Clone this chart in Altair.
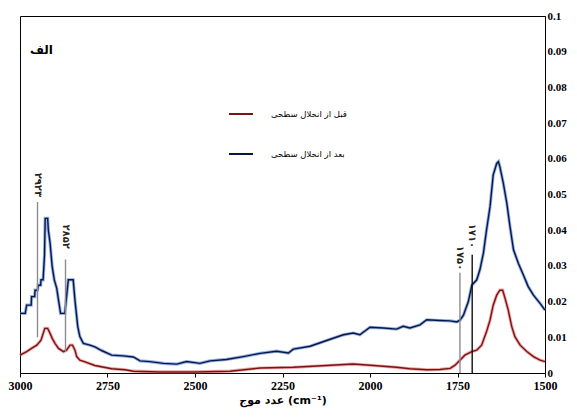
import altair as alt
import pandas as pd

# --- data ---
series_names = ["قبل از انحلال سطحی", "بعد از انحلال سطحی"]

wn_before = [3000, 2981, 2967, 2952, 2940, 2929, 2921, 2914, 2908, 2900, 2890, 2876,
             2867, 2857, 2850, 2843, 2838, 2829, 2814, 2786, 2738, 2700, 2676, 2600,
             2500, 2400, 2314, 2219, 2124, 2048, 1990, 1924, 1886, 1838, 1800, 1771,
             1757, 1743, 1729, 1709, 1695, 1681, 1667, 1657, 1648, 1638, 1629, 1621,
             1614, 1605, 1595, 1586, 1571, 1552, 1533, 1514, 1500]
abs_before = [0.0050, 0.0060, 0.0069, 0.0078, 0.0092, 0.0125, 0.0125, 0.0111, 0.0097, 0.0083,
              0.0069, 0.0060, 0.0064, 0.0078, 0.0078, 0.0064, 0.0046, 0.0036, 0.0031, 0.0021,
              0.0012, 0.0009, 0.0005, 0.0003, 0.0003, 0.0005, 0.0014, 0.0016, 0.0021, 0.0025,
              0.0021, 0.0016, 0.0012, 0.0009, 0.0010, 0.0013, 0.0022, 0.0036, 0.0050, 0.0060,
              0.0064, 0.0078, 0.0116, 0.0148, 0.0190, 0.0218, 0.0232, 0.0232, 0.0209, 0.0176,
              0.0130, 0.0102, 0.0078, 0.0060, 0.0046, 0.0036, 0.0032]

wn_after = [3000, 2985, 2981, 2968, 2967, 2958, 2957, 2950, 2948, 2941, 2940, 2934,
            2930, 2928, 2921, 2919, 2914, 2908, 2902, 2895, 2890, 2884, 2872, 2868,
            2862, 2848, 2843, 2835, 2829, 2819, 2800, 2786, 2767, 2738, 2705, 2676,
            2657, 2629, 2590, 2552, 2524, 2486, 2457, 2410, 2362, 2314, 2267, 2233,
            2219, 2171, 2124, 2076, 2048, 2029, 2000, 1962, 1924, 1905, 1886, 1857,
            1838, 1800, 1771, 1752, 1743, 1733, 1719, 1709, 1695, 1686, 1676, 1667,
            1657, 1648, 1638, 1633, 1629, 1619, 1609, 1600, 1590, 1576, 1562, 1548,
            1533, 1514, 1500]
abs_after = [0.0167, 0.0167, 0.0190, 0.0190, 0.0214, 0.0214, 0.0232, 0.0232, 0.0246, 0.0246,
             0.0261, 0.0261, 0.0330, 0.0433, 0.0433, 0.0400, 0.0363, 0.0298, 0.0261, 0.0237,
             0.0204, 0.0167, 0.0167, 0.0204, 0.0261, 0.0261, 0.0204, 0.0130, 0.0102, 0.0083,
             0.0078, 0.0073, 0.0063, 0.0050, 0.0048, 0.0045, 0.0034, 0.0032, 0.0027, 0.0025,
             0.0032, 0.0027, 0.0034, 0.0038, 0.0046, 0.0055, 0.0061, 0.0056, 0.0067, 0.0075,
             0.0091, 0.0107, 0.0112, 0.0107, 0.0128, 0.0126, 0.0123, 0.0131, 0.0126, 0.0135,
             0.0149, 0.0147, 0.0146, 0.0143, 0.0148, 0.0162, 0.0200, 0.0246, 0.0261, 0.0289,
             0.0336, 0.0401, 0.0466, 0.0555, 0.0587, 0.0592, 0.0578, 0.0531, 0.0475, 0.0410,
             0.0345, 0.0307, 0.0275, 0.0242, 0.0218, 0.0195, 0.0176]

ann_wn = [2950, 2870, 1743, 1708]
ann_low = [0.0100, 0.0060, 0.0, 0.0]
ann_high = [0.0479, 0.0318, 0.0281, 0.0331]
ann_label_y = [0.0527, 0.0382, 0.0322, 0.0384]
ann_text = ["۲۹۲۳", "۲۸۵۲", "۱۷۵۰", "۱۷۱۰"]
ann_color = ["#8c8c8c", "#8c8c8c", "#8c8c8c", "#111111"]

x_ticks = [3000, 2750, 2500, 2250, 2000, 1750, 1500]
y_ticks = [0, 0.01, 0.02, 0.03, 0.04, 0.05, 0.06, 0.07, 0.08, 0.09, 0.1]

panel_label = "الف"
x_title = "عدد موج (cm⁻¹)"

# --- tables ---
df = pd.concat([
    pd.DataFrame({"wn": wn_before, "a": abs_before, "series": series_names[0]}),
    pd.DataFrame({"wn": wn_after, "a": abs_after, "series": series_names[1]}),
], ignore_index=True)

ann = pd.DataFrame({"wn": ann_wn, "lo": ann_low, "hi": ann_high,
                    "ly": ann_label_y, "txt": ann_text, "col": ann_color})

x_scale = alt.Scale(domain=[1500, 3000], reverse=True, nice=False, zero=False)
y_scale = alt.Scale(domain=[0, 0.1], nice=False)

x_axis = alt.Axis(values=x_ticks, title=x_title, grid=False, format="d",
                  labelFont="Liberation Serif", labelFontWeight="bold",
                  labelFontSize=12, labelColor="black", tickSize=4,
                  tickColor="black", domainColor="black",
                  labelFlush=False, labelOverlap=False,
                  titleFont="DejaVu Sans", titleFontWeight="bold",
                  titleFontSize=11, titleColor="black", titlePadding=3,
                  labelPadding=3)
y_axis = alt.Axis(orient="right", values=y_ticks, format="~g", grid=False,
                  ticks=False, title=None, labelFont="Liberation Serif",
                  labelFontWeight="bold", labelFontSize=11, labelColor="black",
                  labelPadding=2, domainColor="black",
                  labelOverlap=False, labelFlush=False)

x_enc = alt.X("wn:Q", scale=x_scale, axis=x_axis)
y_enc = alt.Y("a:Q", scale=y_scale, axis=y_axis)

base = alt.Chart(df)

halo_before = base.transform_filter(alt.datum.series == series_names[0]).mark_line(
    color="#e06060", strokeWidth=3.2, opacity=0.55).encode(x=x_enc, y=y_enc)
halo_after = base.transform_filter(alt.datum.series == series_names[1]).mark_line(
    color="#4a7fd0", strokeWidth=3.2, opacity=0.6).encode(x=x_enc, y=y_enc)

core = base.mark_line(strokeWidth=1.4).encode(
    x=x_enc, y=y_enc,
    color=alt.Color("series:N",
                    scale=alt.Scale(domain=series_names, range=["#7a1414", "#0b1648"]),
                    legend=alt.Legend(orient="none", legendX=208, legendY=85, title=None,
                                      symbolType="stroke", symbolSize=576,
                                      symbolStrokeWidth=2, labelFont="DejaVu Sans",
                                      labelFontSize=8.5, labelColor="black",
                                      rowPadding=22, labelOffset=17, padding=0)),
    detail="series:N",
)

rules = alt.Chart(ann).mark_rule(strokeWidth=1.4).encode(
    x=alt.X("wn:Q", scale=x_scale, axis=x_axis),
    y=alt.Y("lo:Q", scale=y_scale, axis=y_axis),
    y2="hi:Q",
    color=alt.Color("col:N", scale=None))

ann_labels = alt.Chart(ann).mark_text(
    angle=90, align="center", baseline="middle", font="DejaVu Sans",
    fontSize=10, fontWeight="bold", color="#2a2418").encode(
    x=alt.X("wn:Q", scale=x_scale, axis=x_axis),
    y=alt.Y("ly:Q", scale=y_scale, axis=y_axis),
    text="txt:N")

panel = alt.Chart(pd.DataFrame({"t": [panel_label]})).mark_text(
    align="left", baseline="middle", font="DejaVu Sans", fontSize=12,
    fontWeight="bold", color="black").encode(
    x=alt.value(10), y=alt.value(34), text="t:N")

chart = alt.layer(halo_before, halo_after, core, rules, ann_labels, panel).properties(
    width=525, height=357,
    autosize=alt.AutoSizeParams(type="none"),
    padding={"left": 12, "top": 8, "right": 24, "bottom": 39},
).configure_view(stroke="black", strokeWidth=1)

chart.save("out.html", embed_options={"renderer": "svg", "actions": False})
